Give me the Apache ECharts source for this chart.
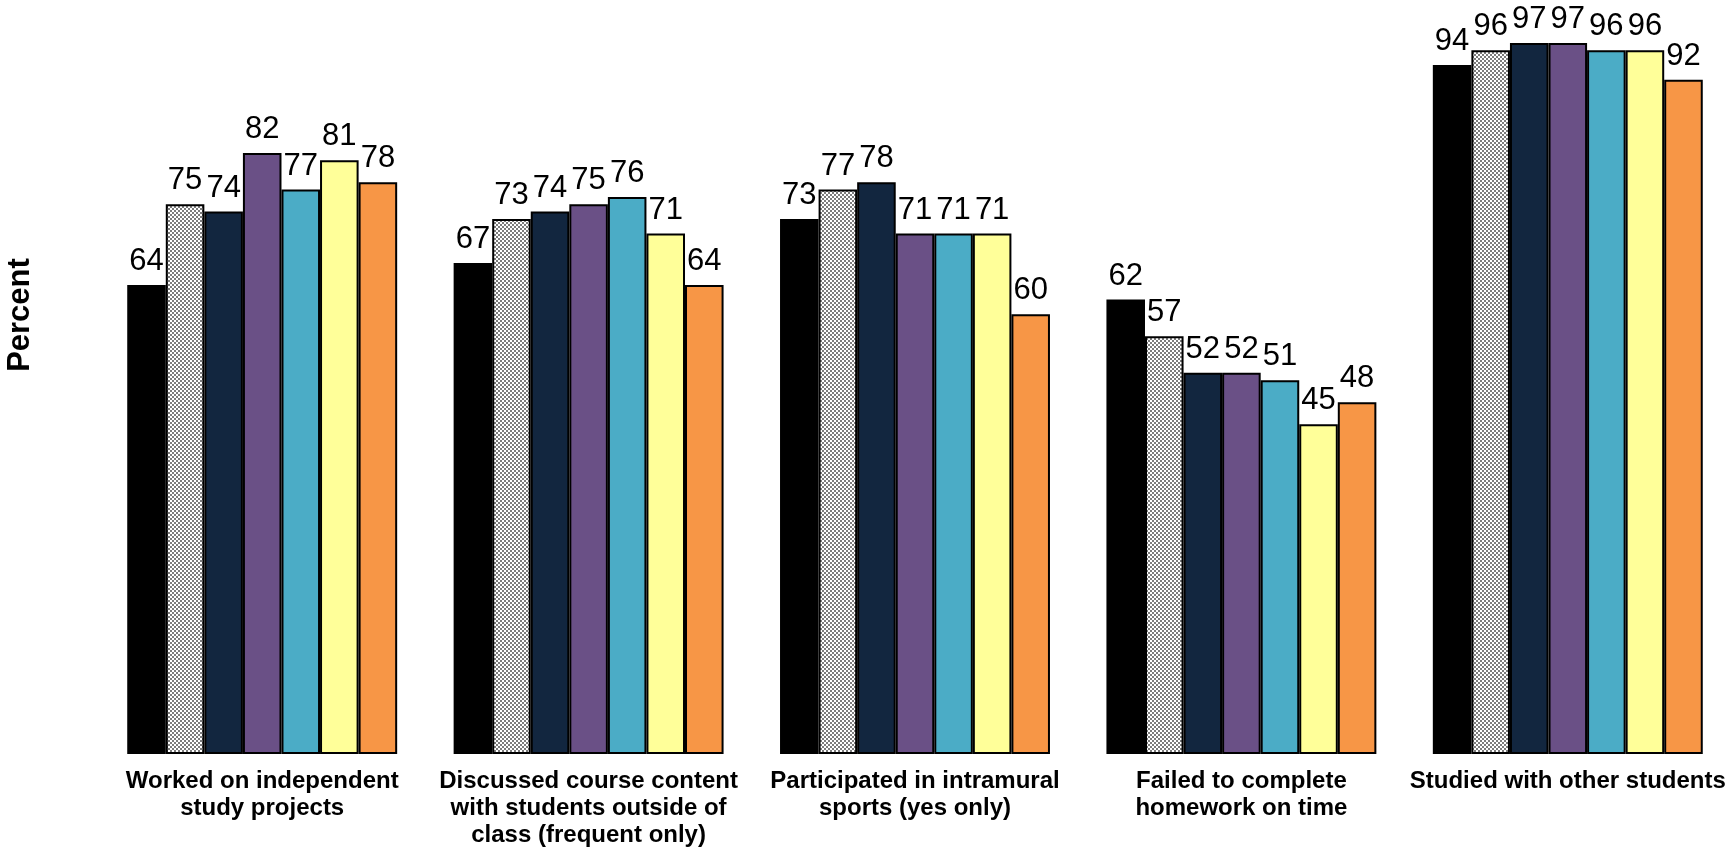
<!DOCTYPE html>
<html>
<head>
<meta charset="utf-8">
<script src="https://cdn.jsdelivr.net/npm/echarts@6/dist/echarts.min.js"></script>
<style>html,body{margin:0;padding:0;background:#fff}#c{width:1731px;height:853px}</style>
</head>
<body>
<div id="c"></div>
<script>
const categories = [
  "Worked on independent\nstudy projects",
  "Discussed course content\nwith students outside of\nclass (frequent only)",
  "Participated in intramural\nsports (yes only)",
  "Failed to complete\nhomework on time",
  "Studied with other students"
];
const seriesNames = ["Series 1", "Series 2", "Series 3", "Series 4", "Series 5", "Series 6", "Series 7"];
const s1 = [64, 67, 73, 62, 94];
const s2 = [75, 73, 77, 57, 96];
const s3 = [74, 74, 78, 52, 97];
const s4 = [82, 75, 71, 52, 97];
const s5 = [77, 76, 71, 51, 96];
const s6 = [81, 71, 71, 45, 96];
const s7 = [78, 64, 60, 48, 92];
const seriesValues = [s1, s2, s3, s4, s5, s6, s7];
const yAxisTitle = "Percent";

// checkered grey pattern for the second series (2px cells)
const pc = document.createElement('canvas');
pc.width = 4; pc.height = 4;
const px = pc.getContext('2d');
px.fillStyle = '#ffffff'; px.fillRect(0, 0, 4, 4);
px.fillStyle = '#7c7c7c';
px.fillRect(0, 0, 2, 2); px.fillRect(2, 2, 2, 2);

const colors = ['#000000', {image: pc, repeat: 'repeat'}, '#12263f', '#6a5086', '#4bacc6', '#ffff99', '#f79646'];

const chart = echarts.init(document.getElementById('c'), null, {renderer: 'canvas'});
chart.setOption({
  animation: false,
  backgroundColor: '#ffffff',
  grid: {left: 99, right: 0, top: 21, bottom: 99, containLabel: false},
  xAxis: {
    type: 'category',
    data: categories,
    axisLine: {show: false},
    axisTick: {show: false},
    axisLabel: {
      interval: 0,
      margin: 14,
      color: '#000',
      fontFamily: 'Liberation Sans, Arial, sans-serif',
      fontWeight: 'bold',
      fontSize: 24,
      lineHeight: 27
    }
  },
  yAxis: {
    type: 'value',
    min: 0, max: 100,
    show: false,
    splitLine: {show: false}
  },
  graphic: [{
    type: 'text',
    x: 20, y: 315,
    rotation: Math.PI / 2,
    style: {
      text: yAxisTitle,
      fill: '#000',
      font: 'bold 31px "Liberation Sans", Arial, sans-serif',
      align: 'center',
      verticalAlign: 'middle'
    }
  }],
  series: seriesValues.map((vals, i) => ({
    name: seriesNames[i],
    type: 'bar',
    data: vals,
    barGap: '0%',
    barCategoryGap: '17.3%',
    itemStyle: {color: colors[i], borderColor: '#000', borderWidth: 2},
    label: {
      show: true,
      position: 'top',
      distance: 8,
      color: '#000',
      fontFamily: 'Liberation Sans, Arial, sans-serif',
      fontSize: 31
    }
  }))
});
</script>
</body>
</html>
